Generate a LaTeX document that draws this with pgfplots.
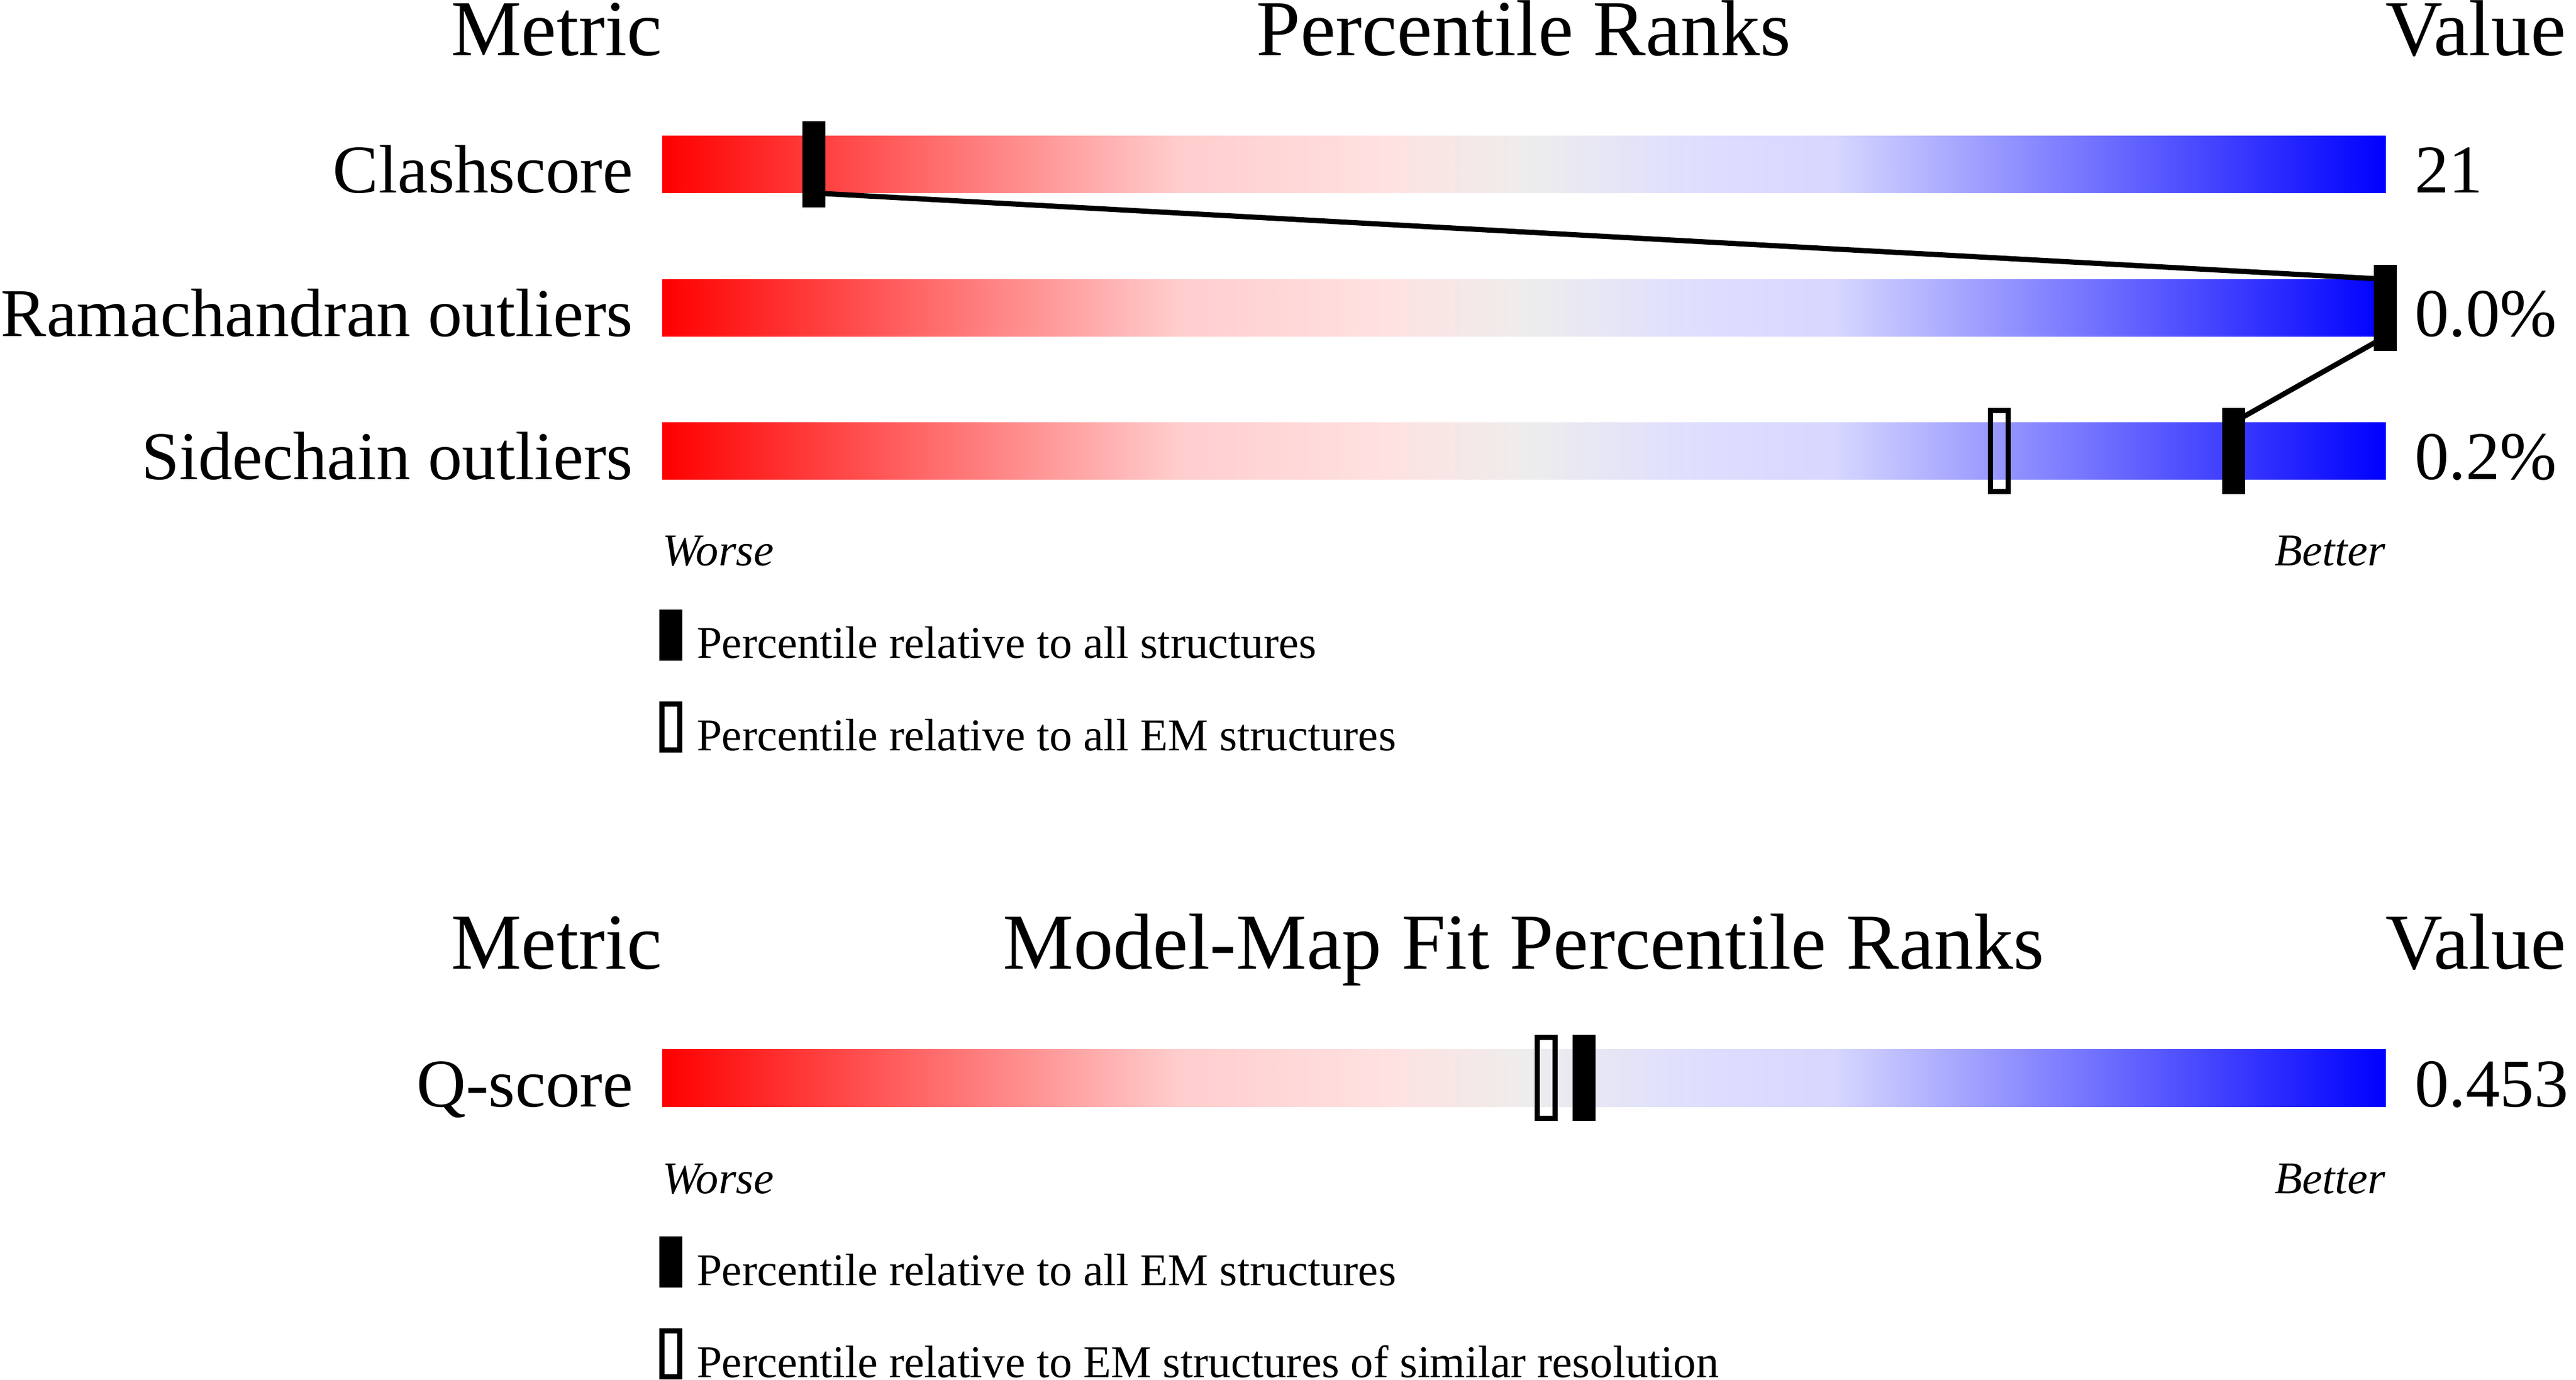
\documentclass[border=0pt]{standalone}
\usepackage{fontspec}
\setmainfont{Liberation Serif}
\usepackage{pgfplots}
\pgfplotsset{compat=1.18}

% red - grey - blue slider
\pgfplotsset{colormap={slider}{rgb255(0cm)=(255,0,0) rgb255(3cm)=(255,205,205)
  rgb255(4.2cm)=(255,225,225) rgb255(5cm)=(238,237,236) rgb255(6cm)=(222,222,255)
  rgb255(6.8cm)=(215,215,255) rgb255(10cm)=(0,0,255)}}

% percentile markers
\pgfdeclareplotmark{pbar}{\pgfpathrectangle{\pgfpoint{-2pt}{-7.5pt}}{\pgfpoint{4pt}{15pt}}\pgfusepathqfill}
\pgfdeclareplotmark{pbox}{\pgfpathrectangle{\pgfpoint{-1.55pt}{-7.05pt}}{\pgfpoint{3.1pt}{14.1pt}}\pgfusepathqstroke}
\pgfdeclareplotmark{lbar}{\pgfpathrectangle{\pgfpoint{-2pt}{-4.45pt}}{\pgfpoint{4pt}{8.9pt}}\pgfusepathqfill}
\pgfdeclareplotmark{lbox}{\pgfpathrectangle{\pgfpoint{-1.55pt}{-4pt}}{\pgfpoint{3.1pt}{8pt}}\pgfusepathqstroke}

\newcommand\hfont{\fontsize{13.8pt}{16pt}\selectfont}
\newcommand\lfont{\fontsize{11.9pt}{14pt}\selectfont}
\newcommand\sfont{\fontsize{7.9pt}{9pt}\selectfont}

\tikzset{txt/.style={inner sep=0pt, outer sep=0pt}}

\begin{document}
\begin{tikzpicture}
\begin{axis}[
    at={(0,0)}, anchor=south west,
    width=448.5pt, height=240.2pt, scale only axis,
    hide axis, clip=false,
    xmin=-38.433, xmax=111.067,
    ymin=0, ymax=2402, y dir=reverse,
    colormap name=slider, point meta min=0, point meta max=100,
]
% gradient bars
\addplot[surf, shader=interp, mesh/cols=7, point meta=x] table {
0 236
30 236
42 236
50 236
60 236
68 236
100 236
0 336
30 336
42 336
50 336
60 336
68 336
100 336
};
\addplot[surf, shader=interp, mesh/cols=7, point meta=x] table {
0 486
30 486
42 486
50 486
60 486
68 486
100 486
0 586
30 586
42 586
50 586
60 586
68 586
100 586
};
\addplot[surf, shader=interp, mesh/cols=7, point meta=x] table {
0 735
30 735
42 735
50 735
60 735
68 735
100 735
0 835
30 835
42 835
50 835
60 835
68 835
100 835
};
\addplot[surf, shader=interp, mesh/cols=7, point meta=x] table {
0 1826
30 1826
42 1826
50 1826
60 1826
68 1826
100 1826
0 1926
30 1926
42 1926
50 1926
60 1926
68 1926
100 1926
};

% connecting lines
\addplot[black, line width=0.9pt] coordinates {(8.8,336) (100,486)};
\addplot[black, line width=0.9pt] coordinates {(100,586) (91.2,735)};

% all structures
\addplot[only marks, black, mark=pbar] coordinates {(8.8,286) (100,536) (91.2,785) (53.5,1876)};
% EM structures
\addplot[only marks, black, line width=0.9pt, mark=pbox] coordinates {(77.6,785) (51.3,1876)};

% legend keys
\addplot[only marks, black, mark=lbar] coordinates {(0.5,1105.5) (0.5,2196.5)};
\addplot[only marks, black, line width=0.9pt, mark=lbox] coordinates {(0.5,1265.5) (0.5,2356.5)};

% headers
\node[txt, anchor=base east, font=\hfont] at (0,97) {Metric};
\node[txt, anchor=base, font=\hfont] at (50,97) {Percentile Ranks};
\node[txt, anchor=base west, font=\hfont] at (100,97) {Value};
\node[txt, anchor=base east, font=\hfont] at (0,1686) {Metric};
\node[txt, anchor=base, font=\hfont] at (50,1686) {Model-Map Fit Percentile Ranks};
\node[txt, anchor=base west, font=\hfont] at (100,1686) {Value};

% metric names and values
\node[txt, anchor=base east, font=\lfont] at (-1.7,336) {Clashscore};
\node[txt, anchor=base east, font=\lfont] at (-1.7,586) {Ramachandran outliers};
\node[txt, anchor=base east, font=\lfont] at (-1.7,835) {Sidechain outliers};
\node[txt, anchor=base east, font=\lfont] at (-1.7,1926) {Q-score};
\node[txt, anchor=base west, font=\lfont] at (101.7,336) {21};
\node[txt, anchor=base west, font=\lfont] at (101.7,586) {0.0\%};
\node[txt, anchor=base west, font=\lfont] at (101.7,835) {0.2\%};
\node[txt, anchor=base west, font=\lfont] at (101.7,1926) {0.453};

% worse / better
\node[txt, anchor=base west, font=\sfont\itshape] at (0,985) {Worse};
\node[txt, anchor=base east, font=\sfont\itshape] at (100,985) {Better};
\node[txt, anchor=base west, font=\sfont\itshape] at (0,2077) {Worse};
\node[txt, anchor=base east, font=\sfont\itshape] at (100,2077) {Better};

% legend texts
\node[txt, anchor=base west, font=\sfont] at (2.0,1146) {Percentile relative to all structures};
\node[txt, anchor=base west, font=\sfont] at (2.0,1306) {Percentile relative to all EM structures};
\node[txt, anchor=base west, font=\sfont] at (2.0,2237) {Percentile relative to all EM structures};
\node[txt, anchor=base west, font=\sfont] at (2.0,2397) {Percentile relative to EM structures of similar resolution};
\end{axis}
\pgfresetboundingbox
\path (0,0) rectangle (448.5pt,240.2pt);
\end{tikzpicture}
\end{document}
